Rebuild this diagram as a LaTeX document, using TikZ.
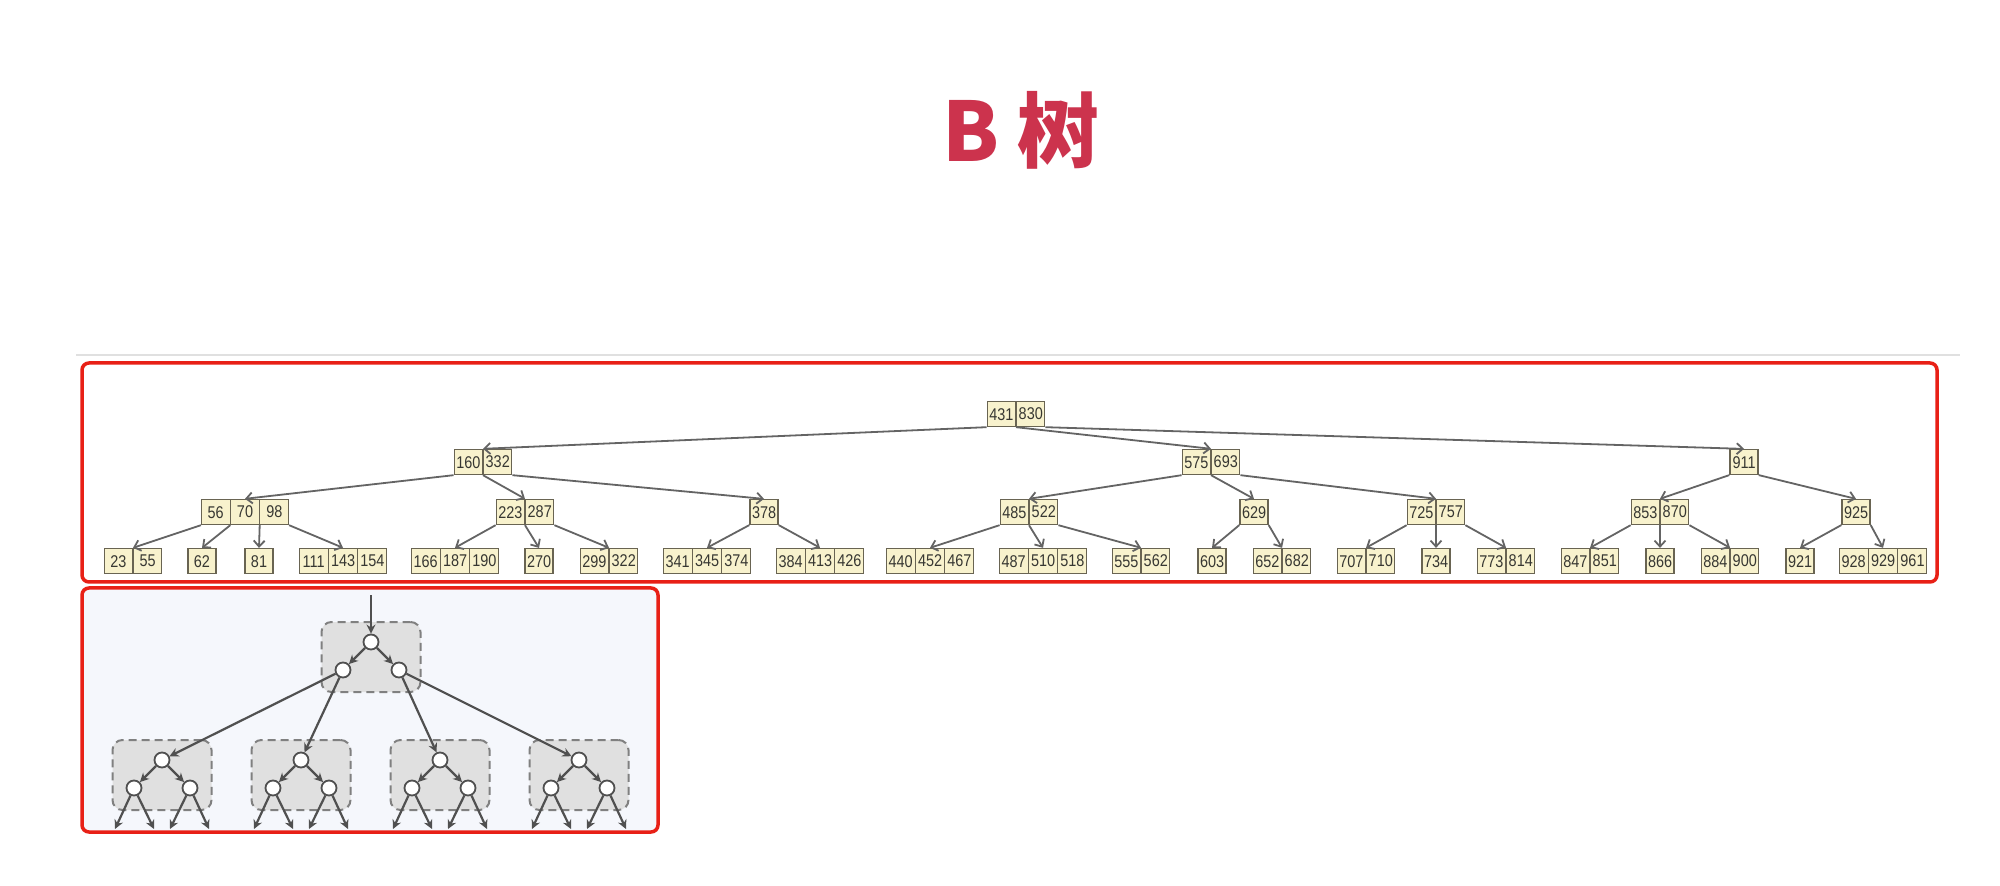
\documentclass[tikz,border=0pt]{standalone}
\usepackage{fontspec}
\setmainfont{Liberation Sans}
\newfontfamily\cjkfont{Noto Sans CJK SC}
\newfontfamily\keyfont{Liberation Sans}[FakeStretch=0.85]
\usetikzlibrary{shapes.multipart,arrows.meta}

\definecolor{titlered}{RGB}{204,51,77}
\definecolor{framered}{RGB}{232,32,22}
\definecolor{keyfill}{RGB}{248,242,205}
\definecolor{keyline}{RGB}{105,100,82}
\definecolor{keytext}{RGB}{55,55,50}
\definecolor{edgegray}{RGB}{100,100,100}
\definecolor{panelbg}{RGB}{245,247,252}
\definecolor{grpfill}{RGB}{224,224,224}
\definecolor{grpline}{RGB}{128,128,128}
\definecolor{linkgray}{RGB}{80,80,80}

\tikzset{
  bnode/.style={rectangle split, rectangle split horizontal, rectangle split parts=#1,
    draw=keyline, fill=keyfill, line width=0.7pt, text width=12pt, align=center,
    inner xsep=1pt, inner ysep=3.1pt, text height=6.2pt, text depth=0pt,
    font=\keyfont\fontsize{8.5}{8.5}\selectfont, text=keytext},
  bedge/.style={draw=edgegray, line width=0.9pt, -{Straight Barb[length=3pt,width=5.5pt]}},
  redframe/.style={draw=framered, line width=1.75pt, rounded corners=3.5pt},
  grp/.style={draw=grpline, fill=grpfill, dash pattern=on 4pt off 2.5pt, line width=1pt,
    rounded corners=5pt, minimum width=49.5pt, minimum height=35pt},
  dot/.style={circle, draw=linkgray, fill=white, line width=0.9pt, minimum size=7.5pt, inner sep=0pt},
  link/.style={draw=linkgray, line width=1.1pt, -{Stealth[length=4.5pt,width=4.5pt]}},
}

\begin{document}
\begin{tikzpicture}[x=0.5pt,y=-0.5pt]
  \fill[white] (0,0) rectangle (2000,886);
  \useasboundingbox (0,0) rectangle (2000,886);

  \node[font=\cjkfont\bfseries\fontsize{41}{41}\selectfont, text=titlered, anchor=base] (title) at (1021,162) {B 树};
  \draw[line width=1pt, black!12] (76,355) -- (1960,355);

  % B tree
  \node[bnode=2] (n431) at (1016,414) {431\nodepart{two}830};

  \node[bnode=2] (n160) at (483,462) {160\nodepart{two}332};
  \node[bnode=2] (n575) at (1211,462) {575\nodepart{two}693};
  \node[bnode=1] (n911) at (1744,462) {911};

  \node[bnode=3] (n56) at (245,512) {56\nodepart{two}70\nodepart{three}98};
  \node[bnode=2] (n223) at (525,512) {223\nodepart{two}287};
  \node[bnode=1] (n378) at (764,512) {378};
  \node[bnode=2] (n485) at (1029,512) {485\nodepart{two}522};
  \node[bnode=1] (n629) at (1254,512) {629};
  \node[bnode=2] (n725) at (1436,512) {725\nodepart{two}757};
  \node[bnode=2] (n853) at (1660,512) {853\nodepart{two}870};
  \node[bnode=1] (n925) at (1856,512) {925};

  \node[bnode=2] (n23) at (133,561) {23\nodepart{two}55};
  \node[bnode=1] (n62) at (202,561) {62};
  \node[bnode=1] (n81) at (259,561) {81};
  \node[bnode=3] (n111) at (343,561) {111\nodepart{two}143\nodepart{three}154};
  \node[bnode=3] (n166) at (455,561) {166\nodepart{two}187\nodepart{three}190};
  \node[bnode=1] (n270) at (539,561) {270};
  \node[bnode=2] (n299) at (609,561) {299\nodepart{two}322};
  \node[bnode=3] (n341) at (707,561) {341\nodepart{two}345\nodepart{three}374};
  \node[bnode=3] (n384) at (820,561) {384\nodepart{two}413\nodepart{three}426};
  \node[bnode=3] (n440) at (930,561) {440\nodepart{two}452\nodepart{three}467};
  \node[bnode=3] (n487) at (1043,561) {487\nodepart{two}510\nodepart{three}518};
  \node[bnode=2] (n555) at (1141,561) {555\nodepart{two}562};
  \node[bnode=1] (n603) at (1212,561) {603};
  \node[bnode=2] (n652) at (1282,561) {652\nodepart{two}682};
  \node[bnode=2] (n707) at (1366,561) {707\nodepart{two}710};
  \node[bnode=1] (n734) at (1436,561) {734};
  \node[bnode=2] (n773) at (1506,561) {773\nodepart{two}814};
  \node[bnode=2] (n847) at (1590,561) {847\nodepart{two}851};
  \node[bnode=1] (n866) at (1660,561) {866};
  \node[bnode=2] (n884) at (1730,561) {884\nodepart{two}900};
  \node[bnode=1] (n921) at (1800,561) {921};
  \node[bnode=3] (n928) at (1883,561) {928\nodepart{two}929\nodepart{three}961};

  \draw[bedge] (n431.south west) -- (n160.north);
  \draw[bedge] (n431.one split south) -- (n575.north);
  \draw[bedge] (n431.south east) -- (n911.north);

  \draw[bedge] (n160.south west) -- (n56.north);
  \draw[bedge] (n160.one split south) -- (n223.north);
  \draw[bedge] (n160.south east) -- (n378.north);
  \draw[bedge] (n575.south west) -- (n485.north);
  \draw[bedge] (n575.one split south) -- (n629.north);
  \draw[bedge] (n575.south east) -- (n725.north);
  \draw[bedge] (n911.south west) -- (n853.north);
  \draw[bedge] (n911.south east) -- (n925.north);

  \draw[bedge] (n56.south west) -- (n23.north);
  \draw[bedge] (n56.one split south) -- (n62.north);
  \draw[bedge] (n56.two split south) -- (n81.north);
  \draw[bedge] (n56.south east) -- (n111.north);
  \draw[bedge] (n223.south west) -- (n166.north);
  \draw[bedge] (n223.one split south) -- (n270.north);
  \draw[bedge] (n223.south east) -- (n299.north);
  \draw[bedge] (n378.south west) -- (n341.north);
  \draw[bedge] (n378.south east) -- (n384.north);
  \draw[bedge] (n485.south west) -- (n440.north);
  \draw[bedge] (n485.one split south) -- (n487.north);
  \draw[bedge] (n485.south east) -- (n555.north);
  \draw[bedge] (n629.south west) -- (n603.north);
  \draw[bedge] (n629.south east) -- (n652.north);
  \draw[bedge] (n725.south west) -- (n707.north);
  \draw[bedge] (n725.one split south) -- (n734.north);
  \draw[bedge] (n725.south east) -- (n773.north);
  \draw[bedge] (n853.south west) -- (n847.north);
  \draw[bedge] (n853.one split south) -- (n866.north);
  \draw[bedge] (n853.south east) -- (n884.north);
  \draw[bedge] (n925.south west) -- (n921.north);
  \draw[bedge] (n925.south east) -- (n928.north);

  \draw[redframe] (82,363) rectangle (1937,582);

  % binary tree in pages
  \fill[panelbg] (82,588) rectangle (658,832);
  \node[grp] (g0) at (371,657) {};
  \node[dot] (c0) at (371,642) {};
  \node[dot] (c1) at (343,670) {};
  \node[dot] (c2) at (399,670) {};
  \coordinate (top) at (371,595);
  \draw[link] (top) -- (c0);
  \draw[link] (c0) -- (c1);
  \draw[link] (c0) -- (c2);

  \foreach \x [count=\i] in {162,301,440,579} {
    \node[grp] (g\i) at (\x,775) {};
    \node[dot] (t\i) at (\x,760) {};
    \node[dot] (l\i) at (\x-28,788) {};
    \node[dot] (r\i) at (\x+28,788) {};
    \coordinate (la\i) at (\x-47,829);
    \coordinate (lb\i) at (\x-8,829);
    \coordinate (ra\i) at (\x+8,829);
    \coordinate (rb\i) at (\x+47,829);
    \draw[link] (t\i) -- (l\i);
    \draw[link] (t\i) -- (r\i);
    \draw[link] (l\i) -- (la\i);
    \draw[link] (l\i) -- (lb\i);
    \draw[link] (r\i) -- (ra\i);
    \draw[link] (r\i) -- (rb\i);
  }
  \draw[link] (c1) -- (t1);
  \draw[link] (c1) -- (t2);
  \draw[link] (c2) -- (t3);
  \draw[link] (c2) -- (t4);

  \draw[redframe] (82,588) rectangle (658,832);
\end{tikzpicture}
\end{document}
